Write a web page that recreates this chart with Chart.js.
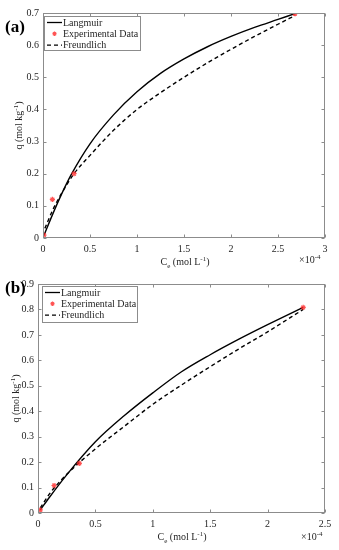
<!DOCTYPE html>
<html>
<head>
<meta charset="utf-8">
<script src="https://cdn.jsdelivr.net/npm/chart.js@4.4.0/dist/chart.umd.min.js"></script>
<style>
  html, body { margin: 0; padding: 0; background: #fff; }
  canvas { position: absolute; left: 0; }
  #chartA { top: 0; }
  #chartB { top: 268px; }
</style>
</head>
<body>
<canvas id="chartA" width="339" height="268"></canvas>
<canvas id="chartB" width="339" height="282"></canvas>
<script>
// ---- panel (a) data, Ce in units of 1e-4 mol/L ----
const expCeA = [0.01, 0.10, 0.33, 2.68];
const expQA = [0.009, 0.12, 0.20, 0.698];
const langCeA = [0.01, 0.1, 0.2, 0.3, 0.5, 0.75, 1.0, 1.25, 1.5, 1.75, 2.0, 2.25, 2.5, 2.68];
const langQA = [0.008, 0.072, 0.138, 0.197, 0.293, 0.383, 0.455, 0.512, 0.557, 0.595, 0.627, 0.655, 0.68, 0.698];
const freCeA = [0.02, 0.1, 0.2, 0.33, 0.5, 0.75, 1.0, 1.25, 1.5, 1.75, 2.0, 2.25, 2.5, 2.68];
const freQA = [0.03, 0.085, 0.14, 0.2, 0.257, 0.335, 0.4, 0.452, 0.5, 0.545, 0.587, 0.627, 0.665, 0.692];

// ---- panel (b) data ----
const expCeB = [0.02, 0.14, 0.36, 2.31];
const expQB = [0.012, 0.108, 0.195, 0.808];
const langCeB = [0.02, 0.1, 0.25, 0.5, 0.75, 1.0, 1.25, 1.5, 1.75, 2.0, 2.31];
const langQB = [0.012, 0.062, 0.15, 0.28, 0.382, 0.472, 0.555, 0.622, 0.683, 0.74, 0.808];
const freCeB = [0.02, 0.1, 0.25, 0.5, 0.75, 1.0, 1.25, 1.5, 1.75, 2.0, 2.31];
const freQB = [0.02, 0.075, 0.152, 0.252, 0.34, 0.427, 0.503, 0.575, 0.645, 0.712, 0.8];

const seriesLabels = ['Langmuir', 'Experimental Data', 'Freundlich'];

const FONT = '"Liberation Serif", "Times New Roman", serif';
const FRAME = '#8c8c8c';
const INK = '#262626';
const RED = 'rgba(255, 40, 40, 0.8)';

const toPts = (xs, ys) => xs.map((x, i) => ({ x, y: ys[i] }));

// text with sub/superscripts: parts = [[text, 'n'|'sub'|'sup'], ...]
function richWidth(ctx, parts) {
    let w = 0;
    parts.forEach(([t, k]) => {
        ctx.font = (k === 'n' ? '10px ' : '7px ') + FONT;
        w += ctx.measureText(t).width;
    });
    return w;
}
function drawRich(ctx, parts, x, y) {
    let cx = x;
    parts.forEach(([t, k]) => {
        ctx.font = (k === 'n' ? '10px ' : '7px ') + FONT;
        const dy = k === 'sub' ? 2.5 : k === 'sup' ? -4 : 0;
        ctx.fillText(t, cx, y + dy);
        cx += ctx.measureText(t).width;
    });
}

// MATLAB-like box, inside ticks, titles, legend, panel letter
const framePlugin = {
    id: 'frame',
    afterDatasetsDraw(chart, args, o) {
        const ctx = chart.ctx;
        const a = chart.chartArea;
        const xs = chart.scales.x, ys = chart.scales.y;
        ctx.save();
        ctx.strokeStyle = FRAME;
        ctx.lineWidth = 1;
        const L = Math.round(a.left) + 0.5, R = Math.round(a.right) - 0.5;
        const T = Math.round(a.top) + 0.5, B = Math.round(a.bottom) - 0.5;
        ctx.strokeRect(L, T, R - L, B - T);
        ctx.beginPath();
        xs.ticks.forEach(t => {
            const px = Math.round(xs.getPixelForValue(t.value)) + 0.5;
            ctx.moveTo(px, B); ctx.lineTo(px, B - 3);
            ctx.moveTo(px, T); ctx.lineTo(px, T + 3);
        });
        ys.ticks.forEach(t => {
            const py = Math.round(ys.getPixelForValue(t.value)) + 0.5;
            ctx.moveTo(L, py); ctx.lineTo(L + 3, py);
            ctx.moveTo(R, py); ctx.lineTo(R - 3, py);
        });
        ctx.stroke();

        // legend
        const lg = o.legend;
        ctx.fillStyle = '#fff';
        ctx.fillRect(lg.x, lg.y, lg.w, lg.h);
        ctx.strokeStyle = FRAME;
        ctx.strokeRect(lg.x + 0.5, lg.y + 0.5, lg.w, lg.h);
        ctx.font = '10px ' + FONT;
        ctx.textBaseline = 'middle';
        ctx.textAlign = 'left';
        seriesLabels.forEach((lab, i) => {
            const cy = lg.y + 6.5 + i * 11.3;
            const x0 = lg.x + 3, x1 = lg.x + 18;
            if (i === 1) {
                ctx.save();
                ctx.strokeStyle = RED;
                ctx.lineWidth = 1.1;
                const cx = (x0 + x1) / 2, r = 2.2;
                ctx.beginPath();
                for (let k = 0; k < 4; k++) {
                    const ang = k * Math.PI / 4;
                    ctx.moveTo(cx - r * Math.cos(ang), cy - r * Math.sin(ang));
                    ctx.lineTo(cx + r * Math.cos(ang), cy + r * Math.sin(ang));
                }
                ctx.stroke();
                ctx.restore();
            } else {
                ctx.save();
                ctx.strokeStyle = '#000';
                ctx.lineWidth = 1.3;
                ctx.setLineDash(i === 2 ? [4, 3] : []);
                ctx.beginPath();
                ctx.moveTo(x0, cy); ctx.lineTo(x1, cy);
                ctx.stroke();
                ctx.restore();
            }
            ctx.fillStyle = INK;
            ctx.fillText(lab, x1 + 1, cy + 0.5);
        });

        // axis titles
        ctx.textBaseline = 'alphabetic';
        ctx.fillStyle = INK;
        const xt = [['C', 'n'], ['e', 'sub'], [' (mol L', 'n'], ['-1', 'sup'], [')', 'n']];
        drawRich(ctx, xt, o.xTitle.x - richWidth(ctx, xt) / 2, o.xTitle.y);
        drawRich(ctx, [['\u00d710', 'n'], ['-4', 'sup']], o.exp.x, o.exp.y);

        const yt = [['q (mol kg', 'n'], ['-1', 'sup'], [')', 'n']];
        ctx.save();
        ctx.translate(o.yTitleX, (a.top + a.bottom) / 2);
        ctx.rotate(-Math.PI / 2);
        drawRich(ctx, yt, -richWidth(ctx, yt) / 2, 3);
        ctx.restore();

        // panel letter
        ctx.font = 'bold 17px ' + FONT;
        ctx.fillStyle = '#000';
        ctx.fillText(o.panel.text, o.panel.x, o.panel.y);
        ctx.restore();
    }
};

function makeChart(id, d) {
    const ctx = document.getElementById(id).getContext('2d');
    return new Chart(ctx, {
        type: 'scatter',
        data: {
            datasets: [
                {
                    label: seriesLabels[0],
                    data: toPts(d.langCe, d.langQ),
                    showLine: true,
                    borderColor: '#000',
                    borderWidth: 1.4,
                    pointRadius: 0,
                    cubicInterpolationMode: 'monotone',
                    order: 2
                },
                {
                    label: seriesLabels[1],
                    data: toPts(d.expCe, d.expQ),
                    showLine: false,
                    pointStyle: 'star',
                    pointRadius: 2.6,
                    borderColor: RED,
                    backgroundColor: RED,
                    pointBorderWidth: 1.2,
                    order: 1
                },
                {
                    label: seriesLabels[2],
                    data: toPts(d.freCe, d.freQ),
                    showLine: true,
                    borderColor: '#000',
                    borderWidth: 1.4,
                    borderDash: [4, 3],
                    pointRadius: 0,
                    cubicInterpolationMode: 'monotone',
                    order: 3
                }
            ]
        },
        options: {
            responsive: false,
            animation: false,
            devicePixelRatio: 1,
            layout: { padding: { top: d.top, right: 14, left: 0, bottom: 0 } },
            plugins: {
                legend: { display: false },
                tooltip: { enabled: false },
                frame: d.frame
            },
            scales: {
                x: {
                    type: 'linear',
                    min: 0,
                    max: d.xMax,
                    grid: { display: false, drawTicks: false },
                    border: { display: false },
                    ticks: {
                        stepSize: 0.5,
                        padding: 5,
                        color: INK,
                        font: { family: FONT, size: 10 },
                        maxRotation: 0,
                        callback: v => String(+v.toFixed(2))
                    },
                    afterFit: s => { s.height = d.xHeight; }
                },
                y: {
                    type: 'linear',
                    min: 0,
                    max: d.yMax,
                    grid: { display: false, drawTicks: false },
                    border: { display: false },
                    ticks: {
                        stepSize: 0.1,
                        padding: 4,
                        color: INK,
                        font: { family: FONT, size: 10 },
                        callback: v => String(+v.toFixed(2))
                    },
                    afterFit: s => { s.width = d.yWidth; }
                }
            }
        },
        plugins: [framePlugin]
    });
}

makeChart('chartA', {
    expCe: expCeA, expQ: expQA, langCe: langCeA, langQ: langQA, freCe: freCeA, freQ: freQA,
    xMax: 3, yMax: 0.7, top: 13, xHeight: 30, yWidth: 43,
    frame: {
        legend: { x: 44, y: 16, w: 96, h: 34 },
        xTitle: { x: 185, y: 265 },
        exp: { x: 299, y: 263 },
        yTitleX: 19,
        panel: { text: '(a)', x: 5, y: 32 }
    }
});

makeChart('chartB', {
    expCe: expCeB, expQ: expQB, langCe: langCeB, langQ: langQB, freCe: freCeB, freQ: freQB,
    xMax: 2.5, yMax: 0.9, top: 16, xHeight: 37, yWidth: 38,
    frame: {
        legend: { x: 42, y: 18, w: 95, h: 36 },
        xTitle: { x: 182, y: 272 },
        exp: { x: 301, y: 272 },
        yTitleX: 16,
        panel: { text: '(b)', x: 5, y: 25 }
    }
});
</script>
</body>
</html>
